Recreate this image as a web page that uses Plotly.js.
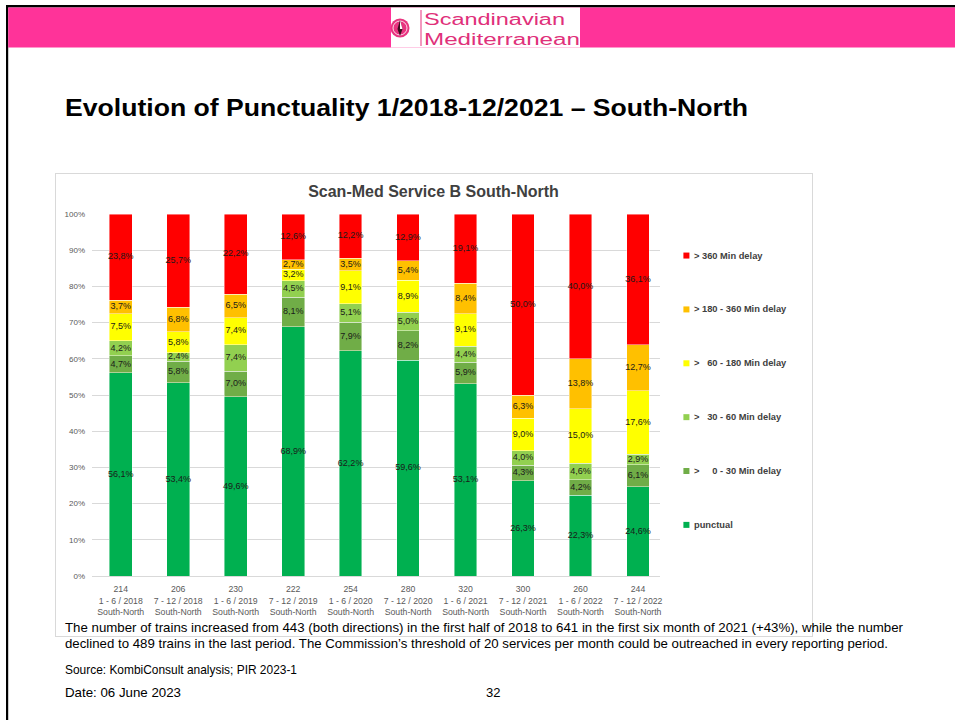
<!DOCTYPE html>
<html><head><meta charset="utf-8">
<script src="https://cdn.plot.ly/plotly-3.0.1.min.js"></script>
<style>
html,body{margin:0;padding:0;background:#fff;}
body{width:955px;height:720px;position:relative;overflow:hidden;font-family:"Liberation Sans",Arial,sans-serif;}
#box{position:absolute;left:55px;top:173px;width:756px;height:462px;border:1px solid #d9d9d9;}
#chart{position:absolute;left:55px;top:173px;width:757px;height:463px;}
svg.deco{position:absolute;left:0;top:0;pointer-events:none;}
</style></head><body>
<div id="box"></div>
<div id="chart"></div>
<svg class="deco" width="955" height="720" xmlns="http://www.w3.org/2000/svg">
  <rect x="6" y="5" width="949" height="2.5" fill="#000"/>
  <rect x="6" y="5" width="2.2" height="715" fill="#000"/>
  <rect x="8.2" y="7.5" width="947" height="40" fill="#FF3399"/>
  <rect x="391" y="7.5" width="189" height="40" fill="#fff"/>
  <circle cx="400" cy="28" r="9.5" fill="#E8337F"/>
  <circle cx="400" cy="28" r="7" fill="none" stroke="#fff" stroke-width="0.8"/>
  <path d="M400 20 L402.5 29 L400 36 L397.5 29 Z" fill="#3a1020"/>
  <path d="M400 20 L402.5 29 L400 29 Z" fill="#fff"/>
  <rect x="420.5" y="10" width="1" height="36" fill="#E8337F"/>
  <g transform="translate(424,0) scale(1,1.1)">
    <text x="0" y="22.6" font-family="Liberation Sans Narrow, Liberation Sans, Arial" font-size="15.5" fill="#E0307A" textLength="141" lengthAdjust="spacingAndGlyphs">Scandinavian</text>
    <text x="0" y="40.8" font-family="Liberation Sans Narrow, Liberation Sans, Arial" font-size="15.5" fill="#E0307A" textLength="156" lengthAdjust="spacingAndGlyphs">Mediterranean</text>
  </g>
  <text x="65" y="116" font-family="Liberation Sans, Arial" font-weight="bold" font-size="24" fill="#000" textLength="683" lengthAdjust="spacingAndGlyphs">Evolution of Punctuality 1/2018-12/2021 – South-North</text>
  <text x="65" y="632" font-family="Liberation Sans Narrow, Liberation Sans, Arial" font-size="13.5" fill="#000" textLength="838" lengthAdjust="spacingAndGlyphs">The number of trains increased from 443 (both directions) in the first half of 2018 to 641 in the first six month of 2021 (+43%), while the number</text>
  <text x="65" y="648" font-family="Liberation Sans Narrow, Liberation Sans, Arial" font-size="13.5" fill="#000" textLength="823" lengthAdjust="spacingAndGlyphs">declined to 489 trains in the last period. The Commission’s threshold of 20 services per month could be outreached in every reporting period.</text>
  <text x="65" y="674" font-family="Liberation Sans Narrow, Liberation Sans, Arial" font-size="13" fill="#000" textLength="232" lengthAdjust="spacingAndGlyphs">Source: KombiConsult analysis; PIR 2023-1</text>
  <text x="65" y="697" font-family="Liberation Sans Narrow, Liberation Sans, Arial" font-size="13" fill="#000" textLength="116" lengthAdjust="spacingAndGlyphs">Date: 06 June 2023</text>
  <text x="486" y="697" font-family="Liberation Sans Narrow, Liberation Sans, Arial" font-size="13" fill="#000">32</text>
</svg>
<script>
// ---- data ----
const periods = ['1 - 6 / 2018','7 - 12 / 2018','1 - 6 / 2019','7 - 12 / 2019','1 - 6 / 2020','7 - 12 / 2020','1 - 6 / 2021','7 - 12 / 2021','1 - 6 / 2022','7 - 12 / 2022'];
const trains = [214,206,230,222,254,280,320,300,260,244];
const direction = 'South-North';
const punctual      = [56.1,53.4,49.6,68.9,62.2,59.6,53.1,26.3,22.3,24.6];
const delay0to30    = [4.7,5.8,7.0,8.1,7.9,8.2,5.9,4.3,4.2,6.1];
const delay30to60   = [4.2,2.4,7.4,4.5,5.1,5.0,4.4,4.0,4.6,2.9];
const delay60to180  = [7.5,5.8,7.4,3.2,9.1,8.9,9.1,9.0,15.0,17.6];
const delay180to360 = [3.7,6.8,6.5,2.7,3.5,5.4,8.4,6.3,13.8,12.7];
const delayOver360  = [23.8,25.7,22.2,12.6,12.2,12.9,19.1,50.0,40.0,36.1];
const seriesNames = ['punctual','>\u00a0\u00a0\u00a0\u00a0\u00a00 - 30 Min delay','>\u00a0\u00a0\u00a030 - 60 Min delay','>\u00a0\u00a0\u00a060 - 180 Min delay','> 180 - 360 Min delay','> 360 Min delay'];
const seriesColors = ['#00B050','#70AD47','#92D050','#FFFF00','#FFC000','#FF0000'];
const yTicks = [0,10,20,30,40,50,60,70,80,90,100];
const chartTitle = 'Scan-Med Service B South-North';

// ---- build ----
const series = [punctual, delay0to30, delay30to60, delay60to180, delay180to360, delayOver360];
const cats = periods.map((p,i)=> trains[i] + '<br>' + p + '<br>' + direction);
const totals = cats.map((c,i)=> series.reduce((s,a)=>s+a[i],0));
const fmt = v => v.toFixed(1).replace('.',',') + '%';

const traces = [];
series.forEach((vals,k)=>{
  traces.push({type:'bar', x:cats, y:vals, name:seriesNames[k], showlegend:false,
    marker:{color:seriesColors[k], line:{color:'rgba(255,255,255,0.55)', width:0.8}},
    hoverinfo:'skip'});
});
series.forEach((vals,k)=>{
  const ys = vals.map((v,i)=>{
    let base = 0; for(let j=0;j<k;j++) base += series[j][i];
    return (base + v/2) / totals[i] * 100;
  });
  traces.push({type:'scatter', mode:'text', x:cats, y:ys, text:vals.map(fmt), showlegend:false,
    textposition:'middle center', cliponaxis:false, hoverinfo:'skip',
    textfont:{family:'Liberation Sans, Arial', size:9, color:'#1a1a1a'}});
});

// geometry (px inside chart div)
const W = 757, H = 463, L = 36.6, T = 40.7, PW = 568, PH = 362.3;
const annotations = [], shapes = [];
const legOrder = [5,4,3,2,1,0];
legOrder.forEach((k,i)=>{
  const yc = 0.8852 - i*0.1488;
  const hs = 3/PH;
  shapes.push({type:'rect', xref:'paper', yref:'paper', x0:1.0412, x1:1.0518, y0:yc-hs, y1:yc+hs,
    fillcolor:seriesColors[k], line:{width:0}});
  annotations.push({xref:'paper', yref:'paper', x:1.0565, y:yc, xanchor:'left', yanchor:'middle',
    showarrow:false, text:'<b>'+seriesNames[k]+'</b>',
    font:{family:'Liberation Sans, Arial', size:9.3, color:'#404040'}});
});

const layout = {
  width:W, height:H,
  margin:{l:L, r:W-L-PW, t:T, b:H-T-PH, pad:0},
  paper_bgcolor:'rgba(0,0,0,0)', plot_bgcolor:'rgba(0,0,0,0)',
  barmode:'stack', barnorm:'percent', bargap:0.605,
  showlegend:false,
  title:{text:'<b>'+chartTitle+'</b>', x:0.5, xref:'container', xanchor:'center',
    y:1-18/H, yref:'container', yanchor:'middle',
    font:{family:'Liberation Sans, Arial', size:16, color:'#404040'}},
  xaxis:{type:'category', range:[-0.5, 9.383], showgrid:false, showline:true, linecolor:'#d9d9d9', linewidth:1,
    ticks:'', ticklabelstandoff:5, tickfont:{family:'Liberation Sans, Arial', size:8.7, color:'#595959'}, fixedrange:true},
  yaxis:{range:[0,100], tickmode:'array', tickvals:yTicks, ticktext:yTicks.map(v=>v+'%'),
    showgrid:true, gridcolor:'#d9d9d9', gridwidth:1, zeroline:false, showline:false, ticks:'',
    ticklabelstandoff:6,
    tickfont:{family:'Liberation Sans, Arial', size:8, color:'#595959'}, fixedrange:true},
  annotations, shapes
};
Plotly.newPlot('chart', traces, layout, {displayModeBar:false, staticPlot:true});
</script>
</body></html>
